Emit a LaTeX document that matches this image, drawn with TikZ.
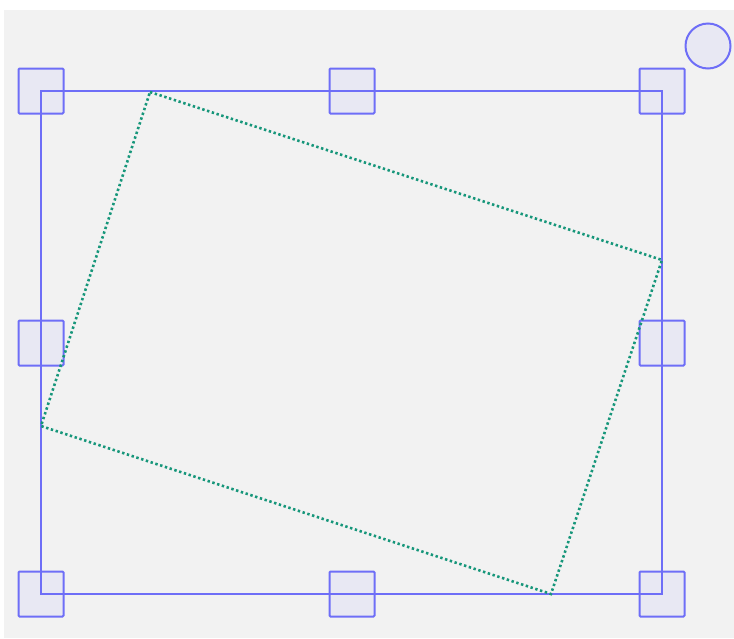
\documentclass[tikz,border=0pt]{standalone}
\begin{document}
\begin{tikzpicture}[x=1pt,y=-1pt,
  handle/.style={draw=hblue,fill=hfill,line width=2pt,rounded corners=1pt,minimum size=45pt,inner sep=0pt,outer sep=0pt},
  frame/.style={draw=hblue,line width=2pt},
  rot/.style={draw=tgreen,line width=2.6pt,dash pattern=on 2.4pt off 2.6pt},
  rothandle/.style={circle,draw=hblue,fill=hfill,line width=2pt,minimum size=45pt,inner sep=0pt}]
\definecolor{hblue}{HTML}{6E6EF7}
\definecolor{hfill}{HTML}{E8E8F3}
\definecolor{tgreen}{HTML}{16967A}
\definecolor{bg}{HTML}{F2F2F2}
\useasboundingbox (0,0) rectangle (734,638);
\fill[white] (0,0) rectangle (734,638);
\fill[bg] (4,10) rectangle (734,638);
\coordinate (tl) at (41,91);
\coordinate (tr) at (662,91);
\coordinate (br) at (662,594);
\coordinate (bl) at (41,594);
\node[handle] (h1) at (tl) {};
\node[handle] (h2) at (352,91) {};
\node[handle] (h3) at (tr) {};
\node[handle] (h4) at (41,343) {};
\node[handle] (h5) at (662,343) {};
\node[handle] (h6) at (bl) {};
\node[handle] (h7) at (352,594) {};
\node[handle] (h8) at (br) {};
\draw[frame] (tl) -- (tr) -- (br) -- (bl) -- cycle;
\node[rothandle] (rh) at (708,46) {};
\coordinate (r1) at (150,92);
\coordinate (r2) at (662,260);
\coordinate (r3) at (551,594);
\coordinate (r4) at (41,426);
\draw[rot] (r1) -- (r2) -- (r3) -- (r4) -- cycle;
\end{tikzpicture}
\end{document}
